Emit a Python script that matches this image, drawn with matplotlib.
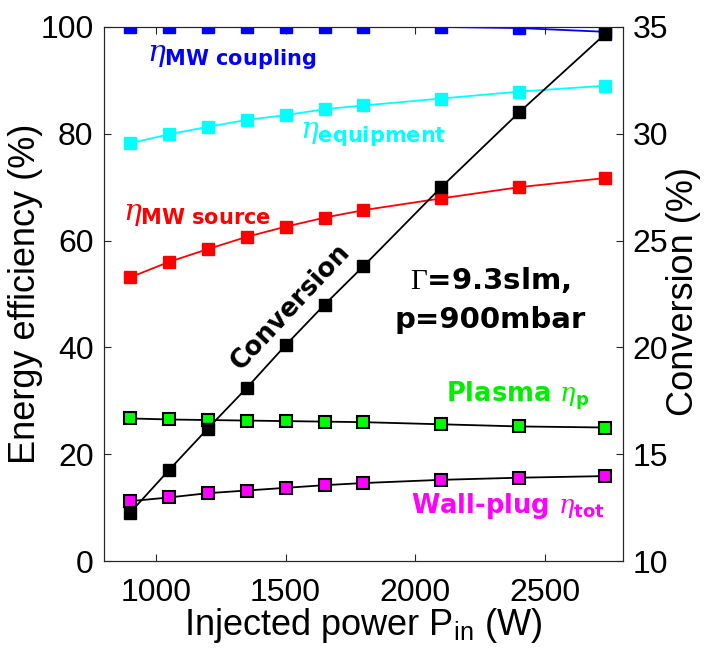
import numpy as np
import matplotlib
matplotlib.use("Agg")
import matplotlib.pyplot as plt

plt.rcParams['font.family'] = ['Liberation Sans', 'DejaVu Sans']
plt.rcParams['mathtext.fontset'] = 'custom'
plt.rcParams['mathtext.it'] = 'DejaVu Serif:italic'
plt.rcParams['mathtext.rm'] = 'Liberation Serif'
plt.rcParams['mathtext.bf'] = 'DejaVu Sans:bold'
plt.rcParams['mathtext.sf'] = 'Liberation Sans'

# injected power (W)
power = [900, 1050, 1200, 1350, 1500, 1650, 1800, 2100, 2400, 2730]

# efficiencies (%)
eta_coupling = [100, 100, 100, 100, 100, 100, 100, 100, 99.8, 99.1]
eta_equipment = [78.2, 79.9, 81.3, 82.6, 83.5, 84.6, 85.3, 86.6, 87.9, 89.0]
eta_source = [53.1, 56.0, 58.4, 60.7, 62.6, 64.3, 65.7, 67.9, 70.0, 71.7]
eta_plasma = [26.7, 26.5, 26.4, 26.3, 26.2, 26.1, 26.0, 25.6, 25.2, 25.0]
eta_tot = [11.2, 11.9, 12.7, 13.2, 13.7, 14.2, 14.6, 15.2, 15.6, 15.9]

# conversion (%), right axis
conversion = [12.25, 14.25, 16.2, 18.1, 20.1, 22.0, 23.8, 27.5, 31.0, 34.65]

axcol = '#262626'
bold_font = 'DejaVu Sans'

fig = plt.figure(figsize=(7.05, 6.55), dpi=100)
ax = fig.add_axes([0.1475, 0.1435, 0.736, 0.8153])
ax2 = ax.twinx()

ax.plot(power, eta_coupling, '-s', color='#0000ff', lw=1.3, ms=8.5, mec='#0000ff')
ax.plot(power, eta_equipment, '-s', color='#00ffff', lw=1.3, ms=8.5, mec='#00ffff')
ax.plot(power, eta_source, '-s', color='#ff0000', lw=1.3, ms=8.5, mec='#ff0000')
ax.plot(power, eta_plasma, '-s', color='black', lw=1.3, ms=8, mfc='#00ff00',
        mec='black', mew=1.5)
ax.plot(power, eta_tot, '-s', color='black', lw=1.3, ms=8, mfc='#ff00ff',
        mec='black', mew=1.5)

ax2.plot(power, conversion, '-s', color='black', lw=1.3, ms=8.5)

ax.set_xlim(800, 2800)
ax.set_ylim(0, 100)
ax2.set_ylim(10, 35)
ax.set_xticks([1000, 1500, 2000, 2500])
ax.set_yticks([0, 20, 40, 60, 80, 100])
ax2.set_yticks([10, 15, 20, 25, 30, 35])

for a in (ax, ax2):
    a.tick_params(direction='in', labelsize=23, length=5, width=0.8,
                  colors=axcol, labelcolor='black')
    for s in a.spines.values():
        s.set_color(axcol)
        s.set_linewidth(0.8)
ax.tick_params(axis='x', top=True, pad=12)
ax.tick_params(axis='y', pad=7.5)
ax2.tick_params(axis='y', pad=7)

ax.set_ylabel('Energy efficiency (%)', fontsize=26, va='center')
ax.yaxis.set_label_coords(-0.152, 0.5)
ax2.set_ylabel('Conversion (%)', fontsize=26, va='center')
ax2.yaxis.set_label_coords(1.116, 0.505)
ax.set_xlabel(r'Injected power P$_{\mathsf{in}}$ (W)', fontsize=26, va='top')
ax.xaxis.set_label_coords(0.5, -0.085)

ax.text(965, 94.3, r'$\eta_{\mathbf{MW\ coupling}}$', color='#0000ff',
        fontsize=21.5, ha='left', va='center')
ax.text(1555, 79.8, r'$\eta_{\mathbf{equipment}}$', color='#00ffff',
        fontsize=21.5, ha='left', va='center')
ax.text(872, 65.0, r'$\eta_{\mathbf{MW\ source}}$', color='#ff0000',
        fontsize=21.5, ha='left', va='center')
ax.text(2120, 31.0, r'Plasma $\eta_{\mathbf{p}}$', color='#00ee00',
        fontsize=18.5, fontweight='bold', family=bold_font,
        ha='left', va='center')
ax.text(1983, 10.3, r'Wall-plug $\eta_{\mathbf{tot}}$', color='#ff00ff',
        fontsize=18.5, fontweight='bold', family=bold_font,
        ha='left', va='center')
ax.text(1519, 47.6, 'Conversion', color='black', fontsize=18.5,
        fontweight='bold', family=bold_font, rotation=47,
        ha='center', va='center')
ax.text(2290, 49.0, '$\\Gamma$=9.3slm,\np=900mbar', color='black',
        fontsize=21, fontweight='bold', family=bold_font,
        ha='center', va='center', linespacing=1.5)

fig.savefig('out.png', dpi=100)
